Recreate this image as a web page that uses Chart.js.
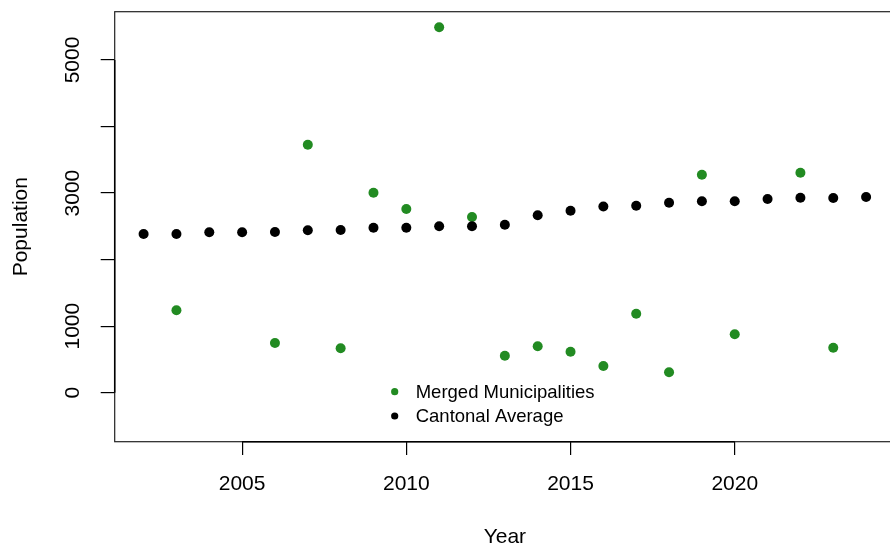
<!DOCTYPE html>
<html>
<head>
<meta charset="utf-8">
<script src="https://cdn.jsdelivr.net/npm/chart.js@4.4.1/dist/chart.umd.min.js"></script>
<style>
  html, body { margin: 0; padding: 0; background: #fff; overflow: hidden; }
  #wrap { width: 890px; height: 548px; overflow: hidden; }
</style>
</head>
<body>
<div id="wrap"><canvas id="popChart" width="900" height="548"></canvas></div>
<script>
// yearly population figures
const years = [2002, 2003, 2004, 2005, 2006, 2007, 2008, 2009, 2010, 2011, 2012, 2013,
               2014, 2015, 2016, 2017, 2018, 2019, 2020, 2021, 2022, 2023, 2024];
const mergedPop = [null, 1238, null, null, 747, 3727, 667, 3005, 2760, 5491, 2640, 556,
                   697, 616, 401, 1187, 307, 3276, 878, null, 3306, 676, null];
const cantonalPop = [2385, 2385, 2410, 2410, 2415, 2440, 2445, 2479, 2479, 2500, 2500, 2524,
                     2666, 2735, 2798, 2810, 2855, 2876, 2876, 2911, 2930, 2926, 2941];
const xTickValues = [2005, 2010, 2015, 2020];
const yTickValues = [0, 1000, 2000, 3000, 4000, 5000];
const yLabelValues = [0, 1000, 3000, 5000];

const FONT = "'Liberation Sans', Arial, Helvetica, sans-serif";

function toPoints(values) {
  return years
    .map((yr, i) => ({ x: yr, y: values[i] }))
    .filter((p) => p.y !== null);
}

// box around the plot region, axis lines, rotated y labels and the legend
const basePlot = {
  id: "basePlot",
  afterDraw(chart) {
    const { ctx, chartArea: a, scales } = chart;
    const xs = scales.x, ys = scales.y;
    ctx.save();
    ctx.strokeStyle = "#222";
    ctx.lineWidth = 1.2;
    ctx.strokeRect(a.left, a.top, a.right - a.left, a.bottom - a.top);

    // axis lines from first to last tick
    const xt = xs.ticks, yt = ys.ticks;
    ctx.strokeStyle = "#000";
    ctx.lineWidth = 1.5;
    ctx.beginPath();
    ctx.moveTo(xs.getPixelForValue(xt[0].value), a.bottom);
    ctx.lineTo(xs.getPixelForValue(xt[xt.length - 1].value), a.bottom);
    ctx.moveTo(a.left, ys.getPixelForValue(yt[0].value));
    ctx.lineTo(a.left, ys.getPixelForValue(yt[yt.length - 1].value));
    ctx.stroke();

    // y tick labels, parallel to the axis
    ctx.fillStyle = "#000";
    ctx.font = "21px " + FONT;
    ctx.textAlign = "center";
    ctx.textBaseline = "middle";
    yLabelValues.forEach((v) => {
      ctx.save();
      ctx.translate(a.left - 41, ys.getPixelForValue(v));
      ctx.rotate(-Math.PI / 2);
      ctx.fillText(String(v), 0, 0);
      ctx.restore();
    });

    // legend without a frame
    const lx = a.left + 280, ly = a.bottom - 50;
    ctx.font = "18.5px " + FONT;
    ctx.textAlign = "left";
    chart.data.datasets.forEach((ds, i) => {
      const cy = ly + i * 24.3;
      ctx.fillStyle = ds.backgroundColor;
      ctx.beginPath();
      ctx.arc(lx, cy, 3.6, 0, Math.PI * 2);
      ctx.fill();
      ctx.fillStyle = "#000";
      ctx.fillText(ds.label, lx + 21, cy + 1);
    });
    ctx.restore();
  },
};

const ctx = document.getElementById("popChart").getContext("2d");
new Chart(ctx, {
  type: "scatter",
  data: {
    datasets: [
      {
        label: "Merged Municipalities",
        data: toPoints(mergedPop),
        backgroundColor: "#228B22",
        borderWidth: 0,
        pointRadius: 5,
        order: 2,
      },
      {
        label: "Cantonal Average",
        data: toPoints(cantonalPop),
        backgroundColor: "#000000",
        borderWidth: 0,
        pointRadius: 5,
        order: 1,
      },
    ],
  },
  options: {
    responsive: false,
    animation: false,
    devicePixelRatio: 1,
    layout: { padding: { top: 11.7, right: 1, left: 0, bottom: 0 } },
    plugins: { legend: { display: false }, tooltip: { enabled: false } },
    scales: {
      x: {
        type: "linear",
        min: 2001.12,
        max: 2024.88,
        afterBuildTicks: (scale) => { scale.ticks = xTickValues.map((v) => ({ value: v })); },
        afterFit: (scale) => { scale.height = 106.3; },
        border: { display: false },
        grid: { drawOnChartArea: false, drawTicks: true, tickLength: 13.3, color: "#000", lineWidth: 1.2 },
        ticks: {
          padding: 17,
          color: "#000",
          font: { family: FONT, size: 21 },
          maxRotation: 0,
          callback: (v) => String(v),
        },
        title: {
          display: true,
          text: "Year",
          color: "#000",
          font: { family: FONT, size: 21, lineHeight: 1 },
          padding: 0,
        },
      },
      y: {
        type: "linear",
        min: -736,
        max: 5725,
        afterBuildTicks: (scale) => { scale.ticks = yTickValues.map((v) => ({ value: v })); },
        afterFit: (scale) => { scale.width = 114.7; },
        border: { display: false },
        grid: { drawOnChartArea: false, drawTicks: true, tickLength: 14, color: "#000", lineWidth: 1.2 },
        ticks: { display: false },
        title: {
          display: true,
          text: "Population",
          color: "#000",
          font: { family: FONT, size: 21, lineHeight: 1 },
          padding: { top: 11, bottom: 0 },
        },
      },
    },
  },
  plugins: [basePlot],
});
</script>
</body>
</html>
